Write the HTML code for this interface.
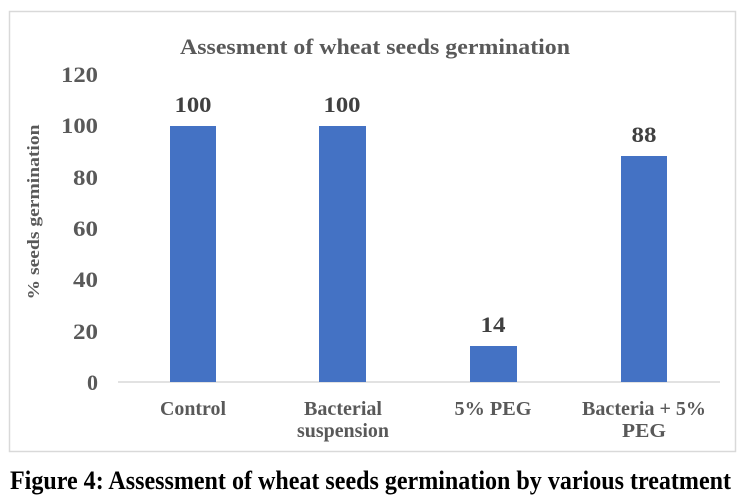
<!DOCTYPE html>
<html><head><style>html,body{margin:0;padding:0;background:#fff;}</style></head>
<body>
<svg width="745" height="499" xmlns="http://www.w3.org/2000/svg" font-family="Liberation Serif, serif" font-weight="bold">
<rect x="9.5" y="11.5" width="726" height="440" fill="#fff" stroke="#d9d9d9" stroke-width="1.5"/>
<text x="375" y="54" font-size="22" fill="#595959" text-anchor="middle" textLength="390" lengthAdjust="spacingAndGlyphs">Assesment of wheat seeds germination</text>
<g font-size="22" fill="#595959" text-anchor="end">
<text x="98" y="390">0</text>
<text x="98" y="339" textLength="25" lengthAdjust="spacingAndGlyphs">20</text>
<text x="98" y="287" textLength="25" lengthAdjust="spacingAndGlyphs">40</text>
<text x="98" y="236" textLength="25" lengthAdjust="spacingAndGlyphs">60</text>
<text x="98" y="185" textLength="25" lengthAdjust="spacingAndGlyphs">80</text>
<text x="98" y="133" textLength="37" lengthAdjust="spacingAndGlyphs">100</text>
<text x="98" y="82" textLength="37" lengthAdjust="spacingAndGlyphs">120</text>
</g>
<text transform="translate(39,212) rotate(-90)" font-size="17" fill="#595959" text-anchor="middle" textLength="175" lengthAdjust="spacingAndGlyphs">% seeds germination</text>
<line x1="118" y1="382" x2="720" y2="382" stroke="#d9d9d9" stroke-width="1.5"/>
<g fill="#4472c4">
<rect x="170" y="126" width="46" height="256"/>
<rect x="319" y="126" width="47" height="256"/>
<rect x="470" y="346" width="47" height="36"/>
<rect x="621" y="156" width="46" height="226"/>
</g>
<g font-size="22" fill="#404040" text-anchor="middle">
<text x="193" y="112" textLength="37" lengthAdjust="spacingAndGlyphs">100</text>
<text x="342" y="112" textLength="37" lengthAdjust="spacingAndGlyphs">100</text>
<text x="493" y="332" textLength="25" lengthAdjust="spacingAndGlyphs">14</text>
<text x="644" y="142" textLength="25" lengthAdjust="spacingAndGlyphs">88</text>
</g>
<g font-size="20" fill="#595959" text-anchor="middle">
<text x="193" y="415" textLength="66" lengthAdjust="spacingAndGlyphs">Control</text>
<text x="343" y="415" textLength="78" lengthAdjust="spacingAndGlyphs">Bacterial</text>
<text x="343" y="437" textLength="92" lengthAdjust="spacingAndGlyphs">suspension</text>
<text x="493" y="415" textLength="77" lengthAdjust="spacingAndGlyphs">5% PEG</text>
<text x="644" y="415" textLength="124" lengthAdjust="spacingAndGlyphs">Bacteria + 5%</text>
<text x="644" y="437" textLength="44" lengthAdjust="spacingAndGlyphs">PEG</text>
</g>
<text x="10" y="489" font-size="26" fill="#000" textLength="721" lengthAdjust="spacingAndGlyphs">Figure 4: Assessment of wheat seeds germination by various treatment</text>
</svg>
</body></html>
